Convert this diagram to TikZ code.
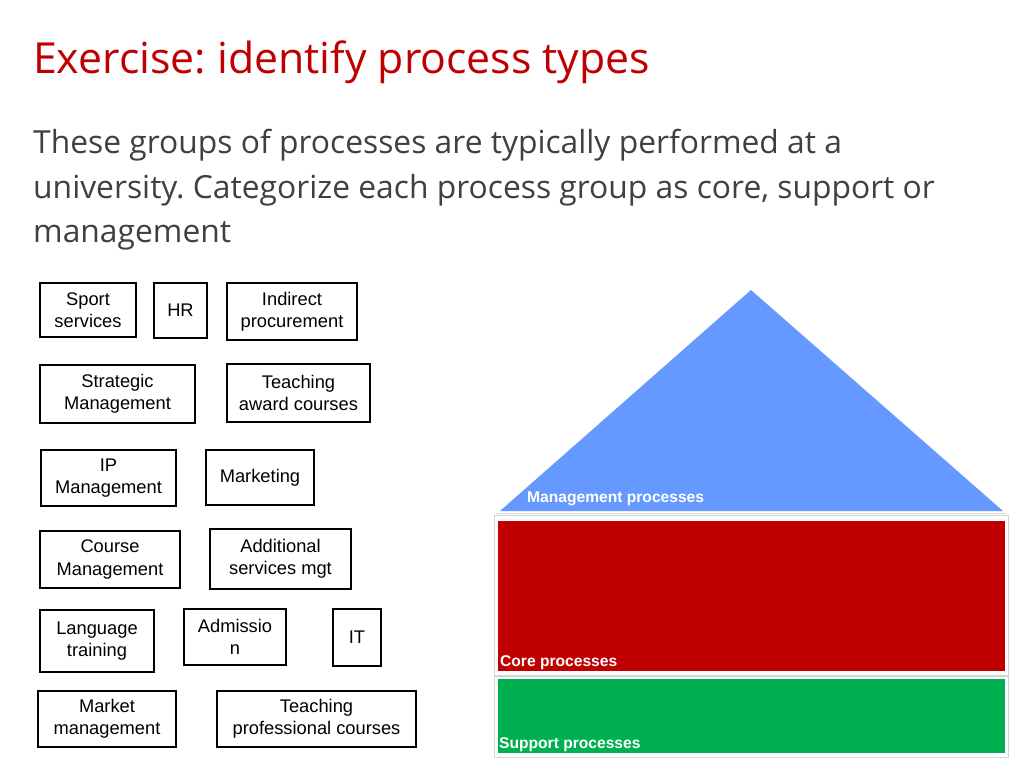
\documentclass[tikz,border=0pt]{standalone}
\usepackage{fontspec}
\setmainfont{Liberation Sans}
\newfontfamily\slidefont{Open Sans}
\frenchspacing
\definecolor{titlered}{HTML}{C00000}
\definecolor{bodygray}{HTML}{404040}
\definecolor{mgmtblue}{HTML}{6699FF}
\definecolor{corered}{HTML}{C00000}
\definecolor{supportgreen}{HTML}{00B050}
\definecolor{framegray}{HTML}{D4D4D4}
\begin{document}
\begin{tikzpicture}[x=1pt,y=-1pt,
  pbox/.style={draw=black, line width=1.3pt, fill=white, inner sep=0pt, align=center,
    font=\fontsize{18.3}{22.3}\selectfont},
  layerlabel/.style={anchor=base west, inner sep=0pt, text=white,
    font=\fontsize{15.6}{18}\selectfont\bfseries},
  layerframe/.style={draw=framegray, line width=1pt, fill=white},
  slidetext/.style={anchor=base west, inner sep=0pt, text=bodygray,
    font=\slidefont\fontsize{31.8}{38}\selectfont}]
\useasboundingbox (0,0) rectangle (1021,772);
\fill[white] (0,0) rectangle (1021,772);

% heading and instruction
\node[anchor=base west, inner sep=0pt, text=titlered,
  font=\slidefont\fontsize{42.8}{50}\selectfont] (title) at (33,73) {Exercise: identify process types};
\node[slidetext] (line1) at (33,153) {These groups of processes are typically performed at a};
\node[slidetext] (line2) at (33,198) {university. Categorize each process group as core, support or};
\node[slidetext] (line3) at (33,242) {management};

% process groups to be sorted
\node[pbox, minimum width=96pt, minimum height=54pt]  (sport)      at (88,310)    {Sport\\services};
\node[pbox, minimum width=53pt, minimum height=55pt]  (hr)         at (180.5,310.5) {HR};
\node[pbox, minimum width=130pt, minimum height=57pt] (indirect)   at (292,311.5) {Indirect\\procurement};
\node[pbox, minimum width=155pt, minimum height=58pt] (strategic)  at (117.5,394) {Strategic\\Management};
\node[pbox, minimum width=143pt, minimum height=58pt] (teachaward) at (298.5,393) {Teaching\\award courses};
\node[pbox, minimum width=135pt, minimum height=56pt] (ipmgmt)     at (108.5,478) {IP\\Management};
\node[pbox, minimum width=108pt, minimum height=55pt] (marketing)  at (260,477.5) {Marketing};
\node[pbox, minimum width=140pt, minimum height=57pt] (course)     at (110,559.5) {Course\\Management};
\node[pbox, minimum width=141pt, minimum height=60pt] (additional) at (280.5,559) {Additional\\services mgt};
\node[pbox, minimum width=114pt, minimum height=62pt] (language)   at (97,641)    {Language\\training};
\node[pbox, minimum width=102pt, minimum height=56pt] (admission)  at (235,637)   {Admissio\\n};
\node[pbox, minimum width=48pt, minimum height=57pt]  (it)         at (357,637.5) {IT};
\node[pbox, minimum width=138pt, minimum height=56pt] (market)     at (107,719)   {Market\\management};
\node[pbox, minimum width=199pt, minimum height=56pt] (teachprof)  at (316.5,719) {Teaching\\professional courses};

% process house: management roof, core and support layers
\draw[framegray, line width=1.2pt] (496,513.5) -- (1006,513.5);
\fill[mgmtblue] (751,290) -- (1003,511) -- (500,511) -- cycle;
\draw[layerframe] (494,515.5) rectangle (1008,675);
\fill[corered] (498,521) rectangle (1005,671);
\draw[layerframe] (494,676.5) rectangle (1008,757);
\fill[supportgreen] (498,679) rectangle (1005,753);

\node[layerlabel] (mgmtlabel)    at (527,502) {Management processes};
\node[layerlabel] (corelabel)    at (500,666) {Core processes};
\node[layerlabel] (supportlabel) at (499,748) {Support processes};
\end{tikzpicture}
\end{document}
